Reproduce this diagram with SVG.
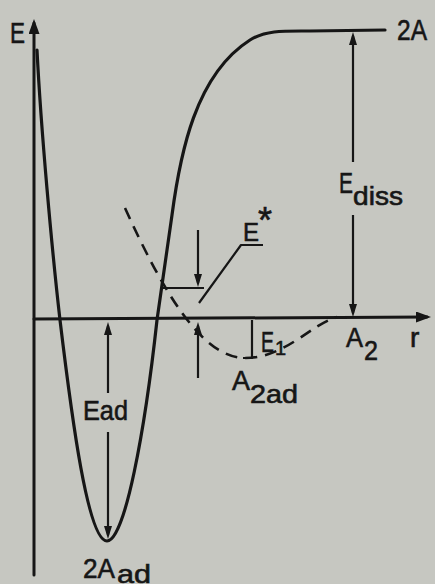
<svg xmlns="http://www.w3.org/2000/svg" width="435" height="584" viewBox="0 0 435 584">
<style>
.ink{stroke:#161616;fill:none;stroke-linecap:round;stroke-linejoin:round}
.ax{stroke-width:3}
.crv{stroke-width:3.2}
.dim{stroke-width:2.2;stroke-linecap:butt}
.dsh{stroke-width:2.6;stroke-dasharray:12 8;stroke-linecap:butt}
text{font-family:"Liberation Sans","DejaVu Sans",sans-serif;fill:#161616;stroke:#161616;stroke-width:0.6}
</style>
<defs>
<marker id="ah" viewBox="0 0 13 8" markerWidth="13" markerHeight="8" refX="9" refY="4" orient="auto" markerUnits="userSpaceOnUse"><path d="M0,0 L13,4 L0,8 z" fill="#161616"/></marker>
<marker id="axh" viewBox="0 0 15 11" markerWidth="15" markerHeight="11" refX="11" refY="5.5" orient="auto" markerUnits="userSpaceOnUse"><path d="M0,0 L15,5.5 L0,11 z" fill="#161616"/></marker>
</defs>
<rect width="435" height="584" fill="#c6c7c1"/>
<g id="axes">
<line class="ink ax" x1="34" y1="575" x2="34" y2="23" marker-end="url(#axh)"/>
<line class="ink ax" x1="34" y1="319" x2="427" y2="317" marker-end="url(#axh)"/>
<text x="10" y="43" font-size="30" textLength="15" lengthAdjust="spacingAndGlyphs">E</text>
<text x="410" y="347" font-size="28">r</text>
</g>
<g id="curves">
<path class="ink crv" d="M37,50 C41,130 52,250 60,320 C72,420 88,541 107,541 C125,541 145,430 157,320 L172,215 C180,155 195,75 250,40 C266,30 285,31 310,31 L385,30"/>
<path class="ink dsh" d="M125,208 C160,285 200,358 245,358 C285,358 310,325 337,317"/>
</g>
<g id="dissociation">
<line class="ink dim" x1="353" y1="162" x2="353" y2="36" marker-end="url(#ah)"/>
<line class="ink dim" x1="353" y1="215" x2="353" y2="313" marker-end="url(#ah)"/>
<text x="339" y="193" font-size="30"><tspan textLength="14" lengthAdjust="spacingAndGlyphs">E</tspan><tspan font-size="26" dy="12" textLength="50" lengthAdjust="spacingAndGlyphs">diss</tspan></text>
<text x="397" y="40" font-size="30" textLength="30" lengthAdjust="spacingAndGlyphs">2A</text>
</g>
<g id="adsorption">
<line class="ink dim" x1="108" y1="393" x2="108" y2="326" marker-end="url(#ah)"/>
<line class="ink dim" x1="108" y1="432" x2="108" y2="535" marker-end="url(#ah)"/>
<text x="83" y="420" font-size="28" textLength="45" lengthAdjust="spacingAndGlyphs">Ead</text>
<text x="83" y="578" font-size="27"><tspan textLength="32" lengthAdjust="spacingAndGlyphs">2A</tspan><tspan font-size="26" dy="5" dx="2" textLength="34" lengthAdjust="spacingAndGlyphs">ad</tspan></text>
</g>
<g id="activation">
<line class="ink dim" x1="162" y1="288" x2="204" y2="288"/>
<line class="ink dim" x1="198" y1="230" x2="198" y2="283" marker-end="url(#ah)"/>
<line class="ink dim" x1="198" y1="378" x2="198" y2="326" marker-end="url(#ah)"/>
<polyline class="ink dim" points="263,245 241,245 199,303"/>
<text x="243" y="241" font-size="26"><tspan textLength="16" lengthAdjust="spacingAndGlyphs">E</tspan><tspan font-size="36" dy="-8" dx="-1">*</tspan></text>
</g>
<g id="molecular">
<polyline class="ink dim" points="243,358 252,358 252,320"/>
<text x="261" y="352" font-size="30"><tspan textLength="13" lengthAdjust="spacingAndGlyphs">E</tspan><tspan font-size="20" dy="3" dx="1">1</tspan></text>
<text x="232" y="390" font-size="28"><tspan textLength="18" lengthAdjust="spacingAndGlyphs">A</tspan><tspan font-size="26" dy="13" textLength="48" lengthAdjust="spacingAndGlyphs">2ad</tspan></text>
<text x="346" y="347" font-size="28"><tspan textLength="17" lengthAdjust="spacingAndGlyphs">A</tspan><tspan dy="13" dx="1" textLength="14" lengthAdjust="spacingAndGlyphs">2</tspan></text>
</g>
</svg>
